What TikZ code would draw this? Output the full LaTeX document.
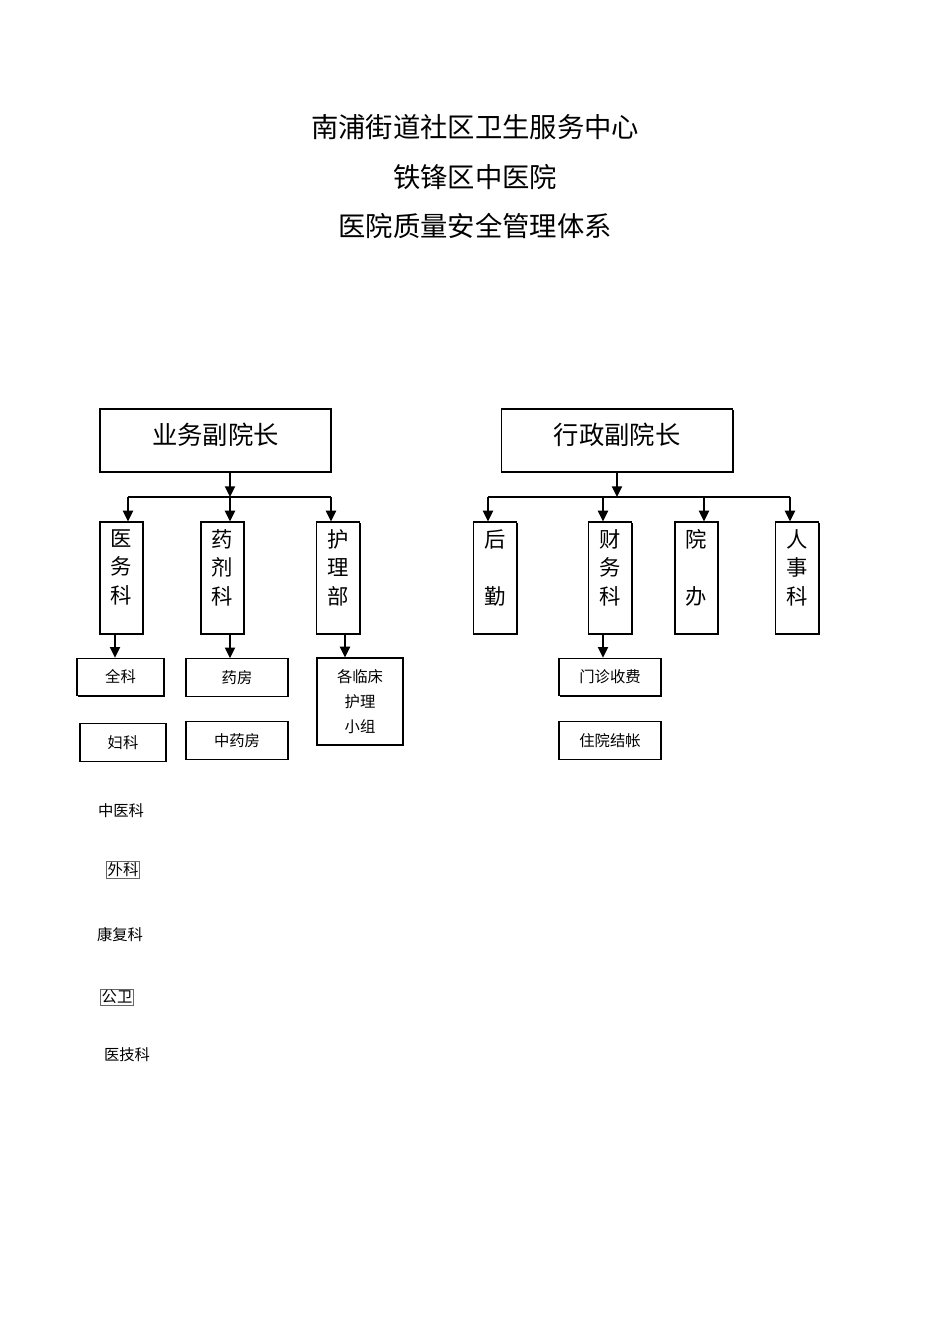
\documentclass[tikz,border=0pt]{standalone}
\usepackage{fontspec}
\newfontfamily\cjk{Noto Sans CJK SC}
\usetikzlibrary{
    positioning,
    shadows,
    arrows.meta
}
\tikzset{
  basic/.style = {
      draw,
      line width=0.9pt,
      fill=white,
      inner sep=0pt,
      align=center,
      font=\cjk\fontsize{11.5}{19}\selectfont,
      drop shadow={shadow xshift=0.8pt, shadow yshift=-0.8pt, opacity=1, fill=black}
  },
  head/.style = {
      basic,
      minimum width=173.25pt,
      minimum height=47.25pt,
      text depth=9.8pt,
      font=\cjk\fontsize{19}{22}\selectfont
  },
  dept/.style = {
      basic,
      minimum width=32.25pt,
      minimum height=84pt
  },
  unit/.style = {
      basic,
      minimum width=76.5pt,
      minimum height=28pt
  },
  vtext/.style = {
      font=\cjk\fontsize{16}{21.4}\selectfont,
      align=center,
      anchor=north,
      inner sep=0pt
  },
  title/.style = {
      font=\cjk\fontsize{20.5}{24}\selectfont
  },
  plain/.style = {
      font=\cjk\fontsize{11.5}{14}\selectfont,
      inner sep=0pt
  },
  framed/.style = {
      plain,
      draw=black!60,
      line width=0.4pt,
      inner sep=1pt
  },
  edge/.style = {
      line width=1.5pt
  },
  arrow/.style = {
      edge,
      -{Triangle[length=8pt, width=7.5pt]}
  }
}

\begin{document}
\begin{tikzpicture}[x=0.75pt, y=-0.75pt]
    \useasboundingbox (0,0) rectangle (950,1344);
    % Titles
    \node[title] (t1) at (475,127) {南浦街道社区卫生服务中心};
    \node[title] (t2) at (475,177) {铁锋区中医院};
    \node[title] (t3) at (475,226) {医院质量安全管理体系};
    % Heads
    \node[head] (yewu) at (215.5,440.5) {业务副院长};
    \node[head] (xingzheng) at (617,440.5) {行政副院长};
    % Departments
    \node[dept] (yiwu) at (121.5,578) {};
    \node[dept] (yaoji) at (222.5,578) {};
    \node[dept] (huli) at (338,578) {};
    \node[dept] (houqin) at (495,578) {};
    \node[dept] (caiwu) at (610,578) {};
    \node[dept] (yuanban) at (696.5,578) {};
    \node[dept] (renshi) at (797,578) {};
    \node[vtext] (yiwu text) at (121.5,529) {医\\务\\科};
    \node[vtext] (yaoji text) at (222.5,529) {药\\剂\\科};
    \node[vtext] (huli text) at (338,529) {护\\理\\部};
    \node[vtext] (houqin text) at (495,529) {后\\[21.4pt]勤};
    \node[vtext] (caiwu text) at (610,529) {财\\务\\科};
    \node[vtext] (yuanban text) at (696.5,529) {院\\[21.4pt]办};
    \node[vtext] (renshi text) at (797,529) {人\\事\\科};
    % Units
    \node[unit, minimum width=65.25pt] (quanke) at (120.5,677) {全科};
    \node[unit, minimum width=64.5pt] (fuke) at (123,742.5) {妇科};
    \node[unit] (yaofang) at (237,677.5) {药房};
    \node[unit] (zhongyaofang) at (237,740.5) {中药房};
    \node[unit, minimum width=64.5pt, minimum height=65.25pt] (linchuang) at (360,701.5) {各临床\\护理\\小组};
    \node[unit] (menzhen) at (610,677) {门诊收费};
    \node[unit] (zhuyuan) at (610,740.5) {住院结帐};
    % Loose labels
    \node[plain] (zhongyike) at (121,811) {中医科};
    \node[framed] (waike) at (123,870) {外科};
    \node[plain] (kangfu) at (120,935) {康复科};
    \node[framed] (gongwei) at (117,997) {公卫};
    \node[plain] (yiji) at (127,1055) {医技科};
    % Bars
    \coordinate (lbarL) at (128,497);
    \coordinate (lbarM) at (230,497);
    \coordinate (lbarR) at (331,497);
    \coordinate (rbarL) at (488,497);
    \coordinate (rbarM) at (603,497);
    \coordinate (rbarN) at (704,497);
    \coordinate (rbarR) at (790,497);
    \draw[edge] (lbarL) -- (lbarR);
    \draw[edge] (rbarL) -- (rbarR);
    \draw[arrow] (lbarM |- yewu.south) -- (lbarM);
    \draw[arrow] (xingzheng.south) -- (xingzheng.south |- rbarM);
    \draw[arrow] (lbarL) -- (lbarL |- yiwu.north);
    \draw[arrow] (lbarM) -- (lbarM |- yaoji.north);
    \draw[arrow] (lbarR) -- (lbarR |- huli.north);
    \draw[arrow] (rbarL) -- (rbarL |- houqin.north);
    \draw[arrow] (rbarM) -- (rbarM |- caiwu.north);
    \draw[arrow] (rbarN) -- (rbarN |- yuanban.north);
    \draw[arrow] (rbarR) -- (rbarR |- renshi.north);
    % Down to units
    \draw[arrow] ([xshift=-4.9pt]yiwu.south) -- ([xshift=-4.9pt]yiwu.south |- quanke.north);
    \draw[arrow] ([xshift=5.6pt]yaoji.south) -- ([xshift=5.6pt]yaoji.south |- yaofang.north);
    \draw[arrow] ([xshift=5.25pt]huli.south) -- ([xshift=5.25pt]huli.south |- linchuang.north);
    \draw[arrow] ([xshift=-5.25pt]caiwu.south) -- ([xshift=-5.25pt]caiwu.south |- menzhen.north);
\end{tikzpicture}
\end{document}
